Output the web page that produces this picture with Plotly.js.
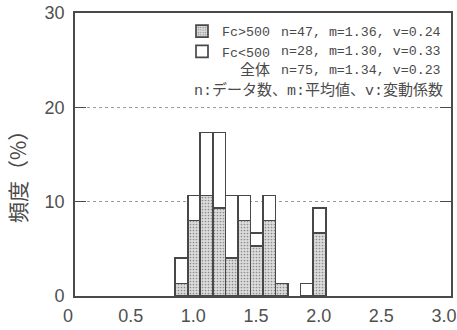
<!DOCTYPE html>
<html>
<head>
<meta charset="utf-8">
<script src="https://cdn.plot.ly/plotly-3.0.1.min.js"></script>
<style>
  html, body { margin: 0; padding: 0; background: #ffffff; }
  #chart { width: 457px; height: 330px; }
</style>
</head>
<body>
<div id="chart"></div>
<script>
// Histogram bins (left edge of each 0.1-wide bin)
const binStart = [0.8, 0.9, 1.0, 1.1, 1.2, 1.3, 1.4, 1.5, 1.6, 1.7, 1.8, 1.9];
const binWidth = 0.1;
// Number of specimens per bin
const countHigh = [1, 6, 8, 7, 3, 6, 4, 6, 1, 0, 0, 5];   // Fc>500
const countLow  = [2, 2, 5, 6, 5, 2, 1, 2, 0, 0, 1, 2];   // Fc<500
// Summary statistics per group
const groupNames = ['Fc&gt;500', 'Fc&lt;500', '全体'];
const groupN     = [47, 28, 75];
const groupMean  = ['1.36', '1.30', '1.34'];
const groupCV    = ['0.24', '0.33', '0.23'];
const noteText   = 'n:データ数、m:平均値、v:変動係数';
// Axis ticks
const xTickVals = [0, 0.5, 1.0, 1.5, 2.0, 2.5, 3.0];
const xTickText = ['0', '0.5', '1.0', '1.5', '2.0', '2.5', '3.0'];
const yTickVals = [0, 10, 20, 30];
const yTitle = '頻度（%）';

// Frequency as a percentage of all specimens
const total = groupN[2];
const toPct = arr => arr.map(c => (c > 0 ? c / total * 100 : null));

const ink = '#4a4a4a';
const W = 457, H = 330;
const M = { l: 75, r: 6, t: 13, b: 34 };
const pw = W - M.l - M.r, ph = H - M.t - M.b;
const px = x => (x - M.l) / pw;          // pixel -> paper x
const py = y => (H - M.b - y) / ph;      // pixel -> paper y

const monoFont = '"Liberation Mono", "Noto Sans CJK JP", monospace';
const numFont = '"Liberation Sans", sans-serif';
const cjkFont = '"Liberation Mono", "Noto Sans CJK JP", sans-serif';

const barLine = { color: '#484848', width: 1.7 };

const traces = [
  {
    type: 'bar',
    name: groupNames[0],
    x: binStart,
    y: toPct(countHigh),
    width: binWidth,
    offset: 0,
    marker: {
      color: '#d2d2d2',
      line: barLine,
      pattern: { shape: '.', fgcolor: '#8c8c8c', bgcolor: '#dcdcdc', size: 3, solidity: 0.25 }
    },
    hoverinfo: 'skip'
  },
  {
    type: 'bar',
    name: groupNames[1],
    x: binStart,
    y: toPct(countLow),
    width: binWidth,
    offset: 0,
    marker: { color: '#ffffff', line: barLine },
    hoverinfo: 'skip'
  }
];

const statText = i => 'n=' + groupN[i] + ', m=' + groupMean[i] + ', v=' + groupCV[i];
const rowY = [32.7, 51.7, 70.7, 90.7];

const annotations = [];
for (let i = 0; i < 3; i++) {
  annotations.push({
    xref: 'paper', yref: 'paper', x: px(279), y: py(rowY[i]),
    xanchor: 'left', yanchor: 'middle', showarrow: false,
    text: statText(i), font: { family: monoFont, size: 13.3, color: ink }
  });
}
annotations.push({
  xref: 'paper', yref: 'paper', x: px(272), y: py(rowY[2]),
  xanchor: 'right', yanchor: 'middle', showarrow: false,
  text: groupNames[2], font: { family: cjkFont, size: 15, color: ink }
});
annotations.push({
  xref: 'paper', yref: 'paper', x: px(192), y: py(rowY[3]),
  xanchor: 'left', yanchor: 'middle', showarrow: false,
  text: noteText, font: { family: cjkFont, size: 15, color: ink }
});
annotations.push({
  xref: 'paper', yref: 'paper', x: px(17), y: py(172),
  xanchor: 'center', yanchor: 'middle', showarrow: false, textangle: -90,
  text: yTitle, font: { family: '"Noto Sans CJK JP", sans-serif', size: 21, color: ink }
});

const layout = {
  width: W, height: H,
  margin: M,
  paper_bgcolor: '#ffffff',
  plot_bgcolor: '#ffffff',
  barmode: 'stack',
  bargap: 0,
  showlegend: true,
  legend: {
    x: px(182), y: py(16), xanchor: 'left', yanchor: 'top',
    traceorder: 'normal',
    bgcolor: 'rgba(0,0,0,0)', borderwidth: 0,
    font: { family: monoFont, size: 13.3, color: ink }
  },
  xaxis: {
    range: [0, 3],
    tickvals: xTickVals, ticktext: xTickText,
    ticks: '', showgrid: false, zeroline: false,
    showline: true, mirror: true, linecolor: ink, linewidth: 1.8,
    tickfont: { family: numFont, size: 18, color: '#505050' },
    ticklabelshift: -7, ticklabelstandoff: 3,
    ticklabeloverflow: 'allow',
    fixedrange: true
  },
  yaxis: {
    range: [0, 30],
    tickvals: yTickVals,
    ticks: 'inside', ticklen: 11, tickwidth: 1.5, tickcolor: ink,
    showline: true, mirror: 'ticks', linecolor: ink, linewidth: 1.8,
    showgrid: true, gridcolor: '#9a9a9a', gridwidth: 1, griddash: 'dot',
    zeroline: false,
    tickfont: { family: numFont, size: 18, color: '#505050' },
    ticklabelstandoff: 5,
    ticklabeloverflow: 'allow',
    fixedrange: true
  },
  annotations: annotations
};

Plotly.newPlot('chart', traces, layout, { displayModeBar: false, staticPlot: true });
</script>
</body>
</html>
